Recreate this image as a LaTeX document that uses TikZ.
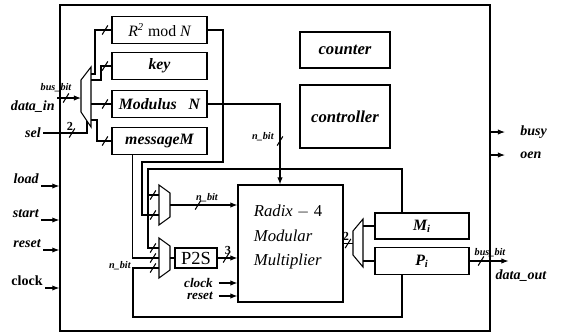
\documentclass[tikz,border=0pt]{standalone}
\usepackage{fontspec}
\setmainfont{Liberation Serif}
\usetikzlibrary{positioning, arrows.meta}

\newcommand{\busmark}[1]{\draw ([shift={(-1.6pt,-2.6pt)}]#1) -- ([shift={(1.6pt,2.6pt)}]#1);}

\begin{document}
\begin{tikzpicture}[
    x=0.02cm, y=-0.02cm,
    line width=0.6pt,
    box/.style={rectangle, draw, inner sep=0pt, minimum width=1.9cm, minimum height=0.53cm, font=\bfseries\itshape\fontsize{9}{10}\selectfont},
    lbl/.style={inner sep=1pt, font=\bfseries\itshape\fontsize{8}{9}\selectfont},
    tiny/.style={inner sep=0.5pt, font=\bfseries\itshape\fontsize{5.8}{6}\selectfont},
    num/.style={inner sep=0.5pt, font=\bfseries\fontsize{7}{8}\selectfont},
    arrow/.style={-{Latex[length=4pt,width=3pt]}}
]
\useasboundingbox (0,0) rectangle (565,335);

% frame
\node[draw, line width=0.8pt, inner sep=0pt, minimum width=8.6cm, minimum height=6.52cm] (frame) at (275,168) {};

% registers
\node[box] (R2) at (159.5,30) {\mdseries R\textsuperscript{2} \upshape mod \itshape N};
\node[box] (key) at (159.5,66) {key};
\node[box] (Mod) at (159.5,104) {Modulus\ \ \ N};
\node[box] (msg) at (159.5,141) {messageM};
\node[box, minimum width=1.8cm, minimum height=0.72cm, font=\bfseries\itshape\fontsize{9.5}{10}\selectfont] (cnt) at (345,50) {counter};
\node[box, minimum width=1.8cm, minimum height=1.26cm, font=\bfseries\itshape\fontsize{9.5}{10}\selectfont] (ctrl) at (345,116.5) {controller};

% multiplier
\node[box, minimum width=2.1cm, minimum height=2.34cm] (mult) at (290.5,243.5) {};
\node[align=left, inner sep=0pt, font=\itshape\fontsize{9.5}{14}\selectfont] (multtxt) at (288,237) {Radix $-$ \upshape 4\\Modular\\Multiplier};
\node[box, minimum width=0.84cm, minimum height=0.4cm, font=\fontsize{10.5}{12}\selectfont] (P2S) at (196,258) {P2S};
\node[box, minimum width=1.88cm, minimum height=0.52cm] (Mi) at (422,226) {M\textsubscript{i}};
\node[box, minimum width=1.88cm, minimum height=0.54cm] (Pi) at (422,261) {P\textsubscript{i}};

% muxes
\draw (81,80) -- (91,67) -- (91,127) -- (81,112) -- cycle;
\coordinate (aIn) at (81,98);
\coordinate (aSel) at (87,121);
\coordinate (aO1) at (91,74);
\coordinate (aO2) at (91,80);
\coordinate (aO3) at (91,104);
\coordinate (aO4) at (91,120);

\draw (159,185) -- (170,193) -- (170,217) -- (159,225) -- cycle;
\coordinate (bIn1) at (159,195);
\coordinate (bIn2) at (159,215);
\coordinate (bOut) at (170,205);

\draw (159,238) -- (170,246) -- (170,270) -- (159,278) -- cycle;
\coordinate (cIn1) at (159,248);
\coordinate (cIn2) at (159,258);
\coordinate (cIn3) at (159,268);
\coordinate (cOut) at (170,258);

\draw (353,231) -- (363,219) -- (363,267) -- (353,255) -- cycle;
\coordinate (dIn) at (353,243.5);
\coordinate (dO1) at (363,226);
\coordinate (dO2) at (363,261);

% inputs
\node[lbl, anchor=north east] (datain) at (57,98) {data\_in};
\draw[arrow] (datain.north east) -- (aIn);
\busmark{66,98}
\node[tiny, above] (busin) at (56,93) {bus\_bit};
\node[lbl, anchor=east] (sel) at (43,133) {sel};
\draw (sel.east) -| (aSel);
\busmark{72,133}
\node[num] (selw) at (70,126) {2};

\node[lbl, anchor=south east] (load) at (41,186) {load};
\node[lbl, anchor=south east] (start) at (41,220) {start};
\node[lbl, anchor=south east] (reset) at (43,250) {reset};
\node[lbl, anchor=south east, font=\bfseries\fontsize{8}{9}\selectfont] (clock) at (45,288) {clock};
\foreach \s in {load, start, reset, clock}
    \draw[arrow] (\s.south east) -- (\s.south east -| frame.west);

% register loading
\draw (aO1) -- ++(4,0) |- (R2.west);
\draw (aO2) -- ++(10,0) |- (key.west);
\draw (aO3) -- (Mod.west);
\draw (aO4) -- ++(6,0) |- (msg.west);
\busmark{105,30}
\busmark{105,66}
\busmark{105,104}
\busmark{105,141}

% datapath
\draw (R2.east) -| (223,162) -| (142,215) -- (bIn2);
\draw[arrow] (Mod.east) -| ([xshift=-0.21cm]mult.north);
\busmark{280,141}
\node[tiny, anchor=east] (nbit1) at (275,137) {n\_bit};
\draw ([xshift=0.42cm]msg.south west) |- (cIn2);
\draw ([xshift=-0.4cm]Mi.north) |- (148,169) |- (cIn1);
\draw (148,195) -- (bIn1);
\draw ([xshift=-0.4cm]Pi.south) |- (133,317) |- (cIn3);
\node[tiny, anchor=east] (nbit3) at (132,266) {n\_bit};
\busmark{153,195}
\busmark{153,215}
\busmark{153,248}
\busmark{153,258}
\busmark{153,268}

\draw[arrow] (bOut) -- (bOut -| mult.west);
\busmark{198,205}
\node[tiny] (nbit2) at (207,198) {n\_bit};
\draw (cOut) -- (P2S.west);
\draw[arrow] (P2S.east) -- (P2S.east -| mult.west);
\busmark{226,258}
\node[num] (three) at (228,250) {3};
\node[lbl, anchor=east, font=\bfseries\itshape\fontsize{7.5}{8}\selectfont] (clk) at (215,283) {clock};
\node[lbl, anchor=east, font=\bfseries\itshape\fontsize{7.5}{8}\selectfont] (rst) at (215,296) {reset};
\draw[arrow] ([xshift=2pt]clk.east) -- (clk.east -| mult.west);
\draw[arrow] ([xshift=2pt]rst.east) -- (rst.east -| mult.west);

\draw (mult.east) -- (dIn);
\busmark{348,243.5}
\node[num] (two) at (346,236) {2};
\draw (dO1) -- (Mi.west);
\draw (dO2) -- (Pi.west);

% outputs
\coordinate (busyp) at (490,132);
\coordinate (oenp) at (490,155);
\node[lbl, anchor=west] (busy) at (518,132) {busy};
\node[lbl, anchor=west] (oen) at (518,155) {oen};
\draw[arrow] (busyp) -- ([xshift=-0.26cm]busy.west);
\draw[arrow] (oenp) -- ([xshift=-0.26cm]oen.west);
\draw[arrow] (Pi.east) -- ++(39,0) coordinate (dout);
\busmark{481,261}
\node[tiny] (busout) at (490,253) {bus\_bit};
\node[lbl, anchor=north] (dataout) at (521,267) {data\_out};

\end{tikzpicture}
\end{document}
